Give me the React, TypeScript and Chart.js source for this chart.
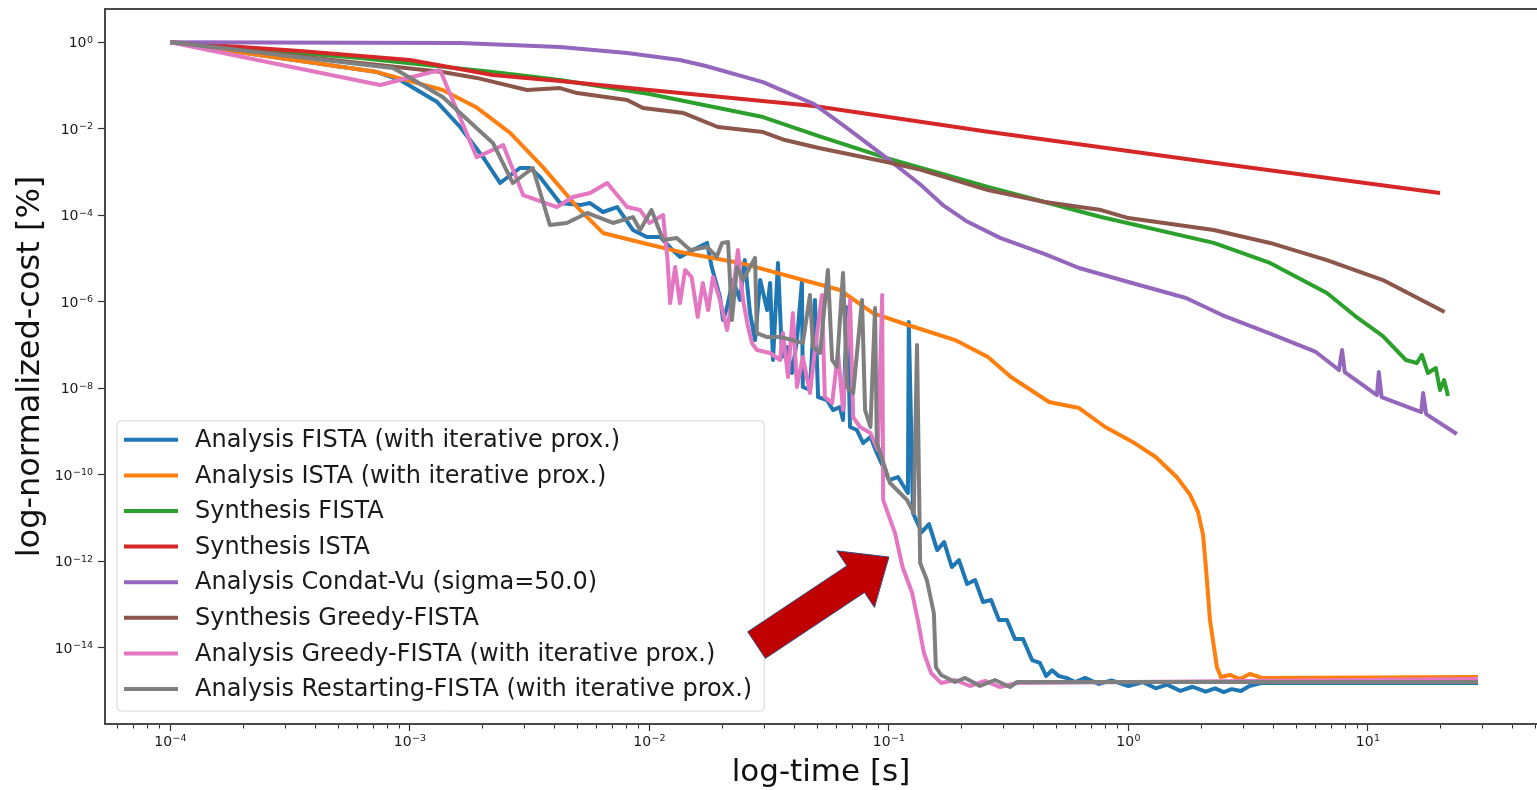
import React, { useEffect, useRef } from "react";
import { Chart, registerables } from "chart.js";

Chart.register(...registerables);

const FONT = "'DejaVu Sans', 'Liberation Sans', sans-serif";
const W = 1537;
const H = 790;

// ---------------- data: [time in s, normalized cost] ----------------
const seriesLabels = [
  "Analysis FISTA (with iterative prox.)",
  "Analysis ISTA (with iterative prox.)",
  "Synthesis FISTA",
  "Synthesis ISTA",
  "Analysis Condat-Vu (sigma=50.0)",
  "Synthesis Greedy-FISTA",
  "Analysis Greedy-FISTA (with iterative prox.)",
  "Analysis Restarting-FISTA (with iterative prox.)",
];
const seriesColors = ["#1f77b4", "#ff7f0e", "#2ca02c", "#d62728", "#9467bd", "#8c564b", "#e377c2", "#7f7f7f"];

const analysisFista = [
  [1e-4, 1], [7.3e-4, 0.205], [9.1e-4, 0.134], [1.3e-3, 0.0415], [1.62e-3, 0.011], [2.02e-3, 0.0022],
  [2.38e-3, 5.57e-4], [2.88e-3, 1.24e-3], [3.17e-3, 1.24e-3], [3.49e-3, 7.66e-4], [4.23e-3, 1.92e-4],
  [5.13e-3, 1.72e-4], [5.65e-3, 1.92e-4], [6.4e-3, 1.19e-4], [7.33e-3, 1.55e-4], [8.53e-3, 4.57e-5],
  [9.76e-3, 3.14e-5], [1.11e-2, 3.14e-5], [1.25e-2, 1.57e-5], [1.34e-2, 1.09e-5], [1.52e-2, 1.57e-5],
  [1.74e-2, 2.29e-5], [1.82e-2, 6.36e-6], [1.97e-2, 1.29e-6], [2.03e-2, 3.77e-7], [2.11e-2, 7.5e-7],
  [2.23e-2, 3.18e-6], [2.39e-2, 1.1e-6], [2.5e-2, 9.2e-6], [2.63e-2, 5.48e-7], [2.76e-2, 1.3e-7],
  [2.9e-2, 3.18e-6], [3.1e-2, 6.43e-7], [3.19e-2, 2.71e-6], [3.28e-2, 4.5e-8], [3.44e-2, 7.87e-6],
  [3.58e-2, 5.28e-8], [3.75e-2, 9e-8], [3.94e-2, 2.25e-8], [4.13e-2, 1.3e-7], [4.33e-2, 2.86e-6],
  [4.37e-2, 1.07e-8], [4.68e-2, 9.1e-9], [4.91e-2, 1.1e-6], [5.06e-2, 6.25e-9], [5.51e-2, 5.33e-9],
  [5.84e-2, 3.13e-9], [6.24e-2, 3.67e-9], [6.43e-2, 1.84e-9], [6.69e-2, 7.5e-7], [6.88e-2, 1.27e-9],
  [7.35e-2, 1.08e-9], [7.8e-2, 5.42e-10], [8.37e-2, 7.46e-10], [8.9e-2, 3.18e-10], [0.1, 7.54e-11],
  [0.109, 8.85e-11], [0.12, 3.77e-11], [0.121, 3.39e-7], [0.126, 1.3e-11], [0.137, 4.72e-12],
  [0.147, 7.23e-12], [0.159, 1.81e-12], [0.17, 2.77e-12], [0.183, 7.35e-13], [0.196, 1.06e-12],
  [0.212, 2.97e-13], [0.229, 3.67e-13], [0.247, 1.14e-13], [0.267, 1.27e-13], [0.288, 4.36e-14],
  [0.311, 4.36e-14], [0.336, 1.58e-14], [0.363, 1.58e-14], [0.396, 5.19e-15], [0.427, 4.43e-15],
  [0.453, 2.22e-15], [0.48, 3.0e-15], [0.512, 2.2e-15], [0.55, 2.0e-15], [0.6, 1.6e-15], [0.66, 2.0e-15],
  [0.75, 1.45e-15], [0.85, 1.75e-15], [1.0, 1.3e-15], [1.15, 1.6e-15], [1.3, 1.15e-15], [1.45, 1.4e-15],
  [1.65, 1.0e-15], [1.85, 1.25e-15], [2.1, 9.6e-16], [2.3, 1.15e-15], [2.5, 9.4e-16], [2.7, 1.1e-15],
  [2.95, 1.0e-15], [3.2, 1.3e-15], [3.58, 1.53e-15], [28.8, 1.53e-15],
];

const analysisIsta = [
  [1e-4, 1], [7.3e-4, 0.205], [1.37e-3, 0.0787], [1.9e-3, 0.031], [2.62e-3, 8.06e-3], [3.59e-3, 1.3e-3],
  [4.99e-3, 1.55e-4], [6.4e-3, 3.9e-5], [9.4e-3, 2.29e-5], [1.34e-2, 1.42e-5], [2.39e-2, 7.9e-6],
  [6.24e-2, 1.87e-6], [8.58e-2, 5.48e-7], [0.12, 2.9e-7], [0.189, 1.3e-7], [0.259, 5.28e-8],
  [0.323, 1.82e-8], [0.466, 4.8e-9], [0.622, 3.48e-9], [0.8, 1.27e-9], [1.06, 5.4e-10], [1.3, 2.57e-10],
  [1.59, 8.85e-11], [1.8, 3.6e-11], [1.95, 1.4e-11], [2.05, 4.0e-12], [2.11, 6.25e-13], [2.19, 4.36e-14],
  [2.34, 3.58e-15], [2.43, 2.1e-15], [2.65, 2.34e-15], [2.92, 1.89e-15], [3.21, 2.47e-15], [3.61, 2.0e-15],
  [28.8, 2.1e-15],
];

const synthesisFista = [
  [1e-4, 1], [6.19e-4, 0.433], [2.22e-3, 0.205], [4.23e-3, 0.134], [1e-2, 0.0636], [2.98e-2, 0.0187],
  [5.1e-2, 6.8e-3], [9.8e-2, 2.1e-3], [0.259, 4.5e-4], [0.769, 9.1e-5], [2.27, 2.3e-5], [3.9, 7.9e-6],
  [6.74, 1.59e-6], [8.85, 4.67e-7], [11.55, 1.6e-7], [14.4, 4.5e-8], [16.0, 3.83e-8], [16.8, 5.9e-8],
  [17.8, 2.25e-8], [19.2, 2.94e-8], [20.0, 9.1e-9], [20.8, 1.55e-8], [21.6, 6.6e-9],
];

const synthesisIsta = [
  [1e-4, 1], [3.47e-4, 0.63], [1e-3, 0.39], [2.22e-3, 0.175], [4.23e-3, 0.127], [1e-2, 0.079],
  [4.87e-2, 0.0336], [0.259, 8.5e-3], [2.27, 1.63e-3], [20, 3.27e-4],
];

const condatVu = [
  [1e-4, 1], [1.62e-3, 0.963], [4.23e-3, 0.78], [8.07e-3, 0.566], [1.34e-2, 0.39], [1.72e-2, 0.283],
  [2.98e-2, 0.12], [4.87e-2, 0.0373], [6.69e-2, 0.0104], [9.8e-2, 2.1e-3], [0.136, 5.0e-4],
  [0.168, 1.72e-4], [0.21, 7.4e-5], [0.291, 3.0e-5], [0.448, 1.27e-5], [0.622, 6.03e-6], [1.0, 2.86e-6],
  [1.74, 1.22e-6], [2.46, 4.93e-7], [3.86, 1.89e-7], [6.06, 6.9e-8], [7.57, 2.64e-8], [7.8, 7.66e-8],
  [8.0, 2.37e-8], [10.9, 6.96e-9], [11.1, 2.37e-8], [11.4, 6.25e-9], [16.7, 2.8e-9], [17.0, 7.74e-9],
  [17.5, 2.53e-9], [23.5, 8.75e-10],
];

const synthesisGreedy = [
  [1e-4, 1], [6.19e-4, 0.332], [1.37e-3, 0.205], [1.9e-3, 0.15], [3.08e-3, 0.0787], [4.23e-3, 0.0875],
  [4.99e-3, 0.067], [8.07e-3, 0.0462], [9.4e-3, 0.0302], [1.39e-2, 0.0231], [1.93e-2, 0.011],
  [2.98e-2, 8.4e-3], [3.68e-2, 5.5e-3], [5.1e-2, 3.6e-3], [9.8e-2, 1.7e-3], [0.136, 1.12e-3],
  [0.259, 3.83e-4], [0.448, 2.02e-4], [0.769, 1.32e-4], [1.0, 8.6e-5], [2.27, 4.57e-5], [3.9, 2.29e-5],
  [6.74, 9.2e-6], [11.55, 3.18e-6], [20.9, 5.78e-7],
];

const analysisGreedy = [
  [1e-4, 1], [7.5e-4, 0.103], [1.335e-3, 0.229], [1.9e-3, 2.2e-3], [2.45e-3, 4.2e-3], [2.97e-3, 2.94e-4],
  [4.11e-3, 1.55e-4], [4.79e-3, 2.64e-4], [5.65e-3, 3.27e-4], [6.66e-3, 5.57e-4], [8.07e-3, 1.55e-4],
  [9.14e-3, 1.32e-4], [1.0e-2, 6.64e-5], [1.14e-2, 1.01e-4], [1.19e-2, 9.2e-6], [1.22e-2, 9.3e-7],
  [1.28e-2, 6.36e-6], [1.34e-2, 9.3e-7], [1.41e-2, 5.42e-6], [1.5e-2, 3.73e-6], [1.59e-2, 4.43e-7],
  [1.67e-2, 2.71e-6], [1.76e-2, 6.43e-7], [1.84e-2, 3.73e-6], [1.97e-2, 1.1e-6], [2.11e-2, 2.22e-7],
  [2.23e-2, 1.59e-6], [2.34e-2, 1.57e-5], [2.46e-2, 1.1e-6], [2.58e-2, 2.6e-7], [2.68e-2, 1.11e-7],
  [2.81e-2, 7.66e-8], [3.19e-2, 6.53e-8], [3.51e-2, 4.5e-8], [3.61e-2, 1.89e-7], [3.79e-2, 1.82e-8],
  [3.97e-2, 5.48e-7], [4.13e-2, 1.07e-8], [4.37e-2, 5.28e-8], [4.68e-2, 7.74e-9], [4.91e-2, 7.66e-8],
  [5.25e-2, 1.43e-6], [5.4e-2, 6.25e-9], [5.79e-2, 4.55e-9], [6.13e-2, 6.53e-8], [6.43e-2, 3.13e-9],
  [6.88e-2, 1.1e-6], [7.09e-2, 2.16e-9], [7.57e-2, 1.27e-9], [8.37e-2, 9.2e-10], [8.99e-2, 3.73e-10],
  [9.37e-2, 1.43e-6], [9.46e-2, 2.6e-11], [0.106, 4.48e-12], [0.114, 7.35e-13], [0.125, 1.84e-13],
  [0.132, 4.36e-14], [0.14, 7.54e-15], [0.15, 2.6e-15], [0.165, 1.53e-15], [0.189, 1.79e-15],
  [0.218, 1.3e-15], [0.252, 1.7e-15], [0.291, 1.23e-15], [0.343, 1.53e-15], [28.8, 1.89e-15],
];

const analysisRestart = [
  [1e-4, 1], [8.5e-4, 0.254], [9.1e-4, 0.205], [1.37e-3, 0.0542], [2.22e-3, 0.0047], [2.69e-3, 5.57e-4],
  [3.26e-3, 1.24e-3], [3.84e-3, 5.97e-5], [4.52e-3, 6.64e-5], [5.49e-3, 1.13e-4], [7.04e-3, 6.64e-5],
  [8.53e-3, 9.1e-5], [9.14e-3, 4.57e-5], [1.02e-2, 1.32e-4], [1.14e-2, 2.68e-5], [1.3e-2, 2.99e-5],
  [1.48e-2, 1.57e-5], [1.74e-2, 1.85e-5], [1.91e-2, 1.09e-5], [2.01e-2, 2.29e-5], [2.13e-2, 2.41e-5],
  [2.21e-2, 3.77e-7], [2.32e-2, 6.36e-6], [2.46e-2, 3.18e-6], [2.63e-2, 6.36e-6], [2.76e-2, 1.03e-5],
  [2.81e-2, 1.89e-7], [3.1e-2, 1.53e-7], [3.51e-2, 1.53e-7], [3.97e-2, 1.3e-7], [4.37e-2, 1.11e-7],
  [4.68e-2, 1.43e-6], [4.82e-2, 9e-8], [5.16e-2, 6.53e-8], [5.56e-2, 5.42e-6], [5.79e-2, 4.5e-8],
  [6.06e-2, 3.1e-8], [6.43e-2, 4.62e-6], [6.69e-2, 1.07e-8], [7.09e-2, 7.74e-9], [7.72e-2, 1.1e-6],
  [7.95e-2, 3.13e-9], [8.37e-2, 1.27e-9], [8.75e-2, 7.15e-7], [8.9e-2, 5.42e-10], [9.19e-2, 3.18e-10],
  [0.101, 6.43e-11], [0.119, 2.6e-11], [0.127, 1.3e-11], [0.131, 1.0e-7], [0.135, 9.1e-13],
  [0.144, 3.67e-13], [0.154, 6.33e-14], [0.157, 3.58e-15], [0.165, 2.34e-15], [0.189, 1.61e-15],
  [0.208, 2.0e-15], [0.24, 1.3e-15], [0.277, 1.79e-15], [0.32, 1.23e-15], [0.343, 1.61e-15],
  [28.8, 1.61e-15],
];

const seriesData = [
  analysisFista, analysisIsta, synthesisFista, synthesisIsta,
  condatVu, synthesisGreedy, analysisGreedy, analysisRestart,
];

// ---------------- axes ----------------
const xTickValues = [1e-4, 1e-3, 1e-2, 1e-1, 1, 10];
const xTickExponents = ["−4", "−3", "−2", "−1", "0", "1"];
const yTickValues = [1, 1e-2, 1e-4, 1e-6, 1e-8, 1e-10, 1e-12, 1e-14];
const yTickExponents = ["0", "−2", "−4", "−6", "−8", "−10", "−12", "−14"];
const tickBase = "10";
const xMinorSubs = [2, 3, 4, 5, 6, 7, 8, 9];
const xMinorDecades = [1e-5, 1e-4, 1e-3, 1e-2, 1e-1, 1, 10];
const X_MIN = 5.33e-5;
const X_MAX = 50.8;
const Y_MIN = 1.72e-16;
const Y_MAX = 5.89;

// annotation arrow (data coords)
const arrowTail = [0.028, 1.15e-14];
const arrowTip = [0.1, 1.25e-12];

const SPINE = "#4a4a4a";
const TICK = "#333333";
const BASE_FONT = 14;
const EXP_FONT = 9.5;

const framePlugin = {
  id: "frameExtras",
  afterDraw(chart: any) {
    const { ctx, chartArea: a, scales } = chart;
    const xs = scales.x;
    ctx.save();
    ctx.strokeStyle = SPINE;
    ctx.lineWidth = 2;
    ctx.beginPath();
    ctx.moveTo(a.left - 1, a.top);
    ctx.lineTo(a.right, a.top);
    ctx.stroke();
    ctx.strokeStyle = TICK;
    ctx.lineWidth = 1;
    for (const d of xMinorDecades) {
      for (const m of xMinorSubs) {
        const v = m * d;
        if (v < xs.min || v > xs.max) continue;
        const px = Math.round(xs.getPixelForValue(v)) + 0.5;
        ctx.beginPath();
        ctx.moveTo(px, a.bottom + 1);
        ctx.lineTo(px, a.bottom + 4.5);
        ctx.stroke();
      }
    }
    ctx.restore();
  },
};

// power-of-ten tick labels with a raised exponent
const sciTickPlugin = {
  id: "sciTicks",
  afterDraw(chart: any) {
    const { ctx, chartArea: a, scales } = chart;
    ctx.save();
    ctx.fillStyle = "#1a1a1a";
    ctx.textBaseline = "alphabetic";
    ctx.textAlign = "left";
    const measure = (exp: string) => {
      ctx.font = `${BASE_FONT}px ${FONT}`;
      const bw = ctx.measureText(tickBase).width;
      ctx.font = `${EXP_FONT}px ${FONT}`;
      const ew = ctx.measureText(exp).width;
      return { bw, ew };
    };
    const draw = (x0: number, baseY: number, exp: string, bw: number) => {
      ctx.font = `${BASE_FONT}px ${FONT}`;
      ctx.fillText(tickBase, x0, baseY);
      ctx.font = `${EXP_FONT}px ${FONT}`;
      ctx.fillText(exp, x0 + bw + 0.5, baseY - 4.8);
    };
    xTickValues.forEach((v, i) => {
      const px = scales.x.getPixelForValue(v);
      const { bw, ew } = measure(xTickExponents[i]);
      draw(px - (bw + ew + 0.5) / 2, a.bottom + 22, xTickExponents[i], bw);
    });
    yTickValues.forEach((v, i) => {
      const py = scales.y.getPixelForValue(v);
      const { bw, ew } = measure(yTickExponents[i]);
      draw(a.left - 12 - (bw + ew + 0.5), py + 5.1, yTickExponents[i], bw);
    });
    ctx.restore();
  },
};

const legendPlugin = {
  id: "boxLegend",
  afterDraw(chart: any) {
    const { ctx, chartArea: a } = chart;
    ctx.save();
    ctx.font = `24px ${FONT}`;
    const textW = Math.max(...seriesLabels.map((s) => ctx.measureText(s).width));
    const rowH = 35.6;
    const padTop = 19;
    const boxW = 78 + textW + 12;
    const boxH = padTop + rowH * (seriesLabels.length - 1) + 22;
    const left = a.left + 12;
    const top = a.bottom - 13 - boxH;
    const r = 4;
    ctx.beginPath();
    ctx.moveTo(left + r, top);
    ctx.lineTo(left + boxW - r, top);
    ctx.quadraticCurveTo(left + boxW, top, left + boxW, top + r);
    ctx.lineTo(left + boxW, top + boxH - r);
    ctx.quadraticCurveTo(left + boxW, top + boxH, left + boxW - r, top + boxH);
    ctx.lineTo(left + r, top + boxH);
    ctx.quadraticCurveTo(left, top + boxH, left, top + boxH - r);
    ctx.lineTo(left, top + r);
    ctx.quadraticCurveTo(left, top, left + r, top);
    ctx.closePath();
    ctx.fillStyle = "rgba(255,255,255,0.85)";
    ctx.fill();
    ctx.strokeStyle = "#d6d6d6";
    ctx.lineWidth = 1;
    ctx.stroke();
    ctx.textBaseline = "middle";
    ctx.textAlign = "left";
    seriesLabels.forEach((lab, i) => {
      const y = top + padTop + i * rowH;
      ctx.strokeStyle = seriesColors[i];
      ctx.lineWidth = 4;
      ctx.beginPath();
      ctx.moveTo(left + 7, y);
      ctx.lineTo(left + 61, y);
      ctx.stroke();
      ctx.fillStyle = "#1a1a1a";
      ctx.fillText(lab, left + 78, y + 1);
    });
    ctx.restore();
  },
};

const arrowPlugin = {
  id: "arrowNote",
  afterDraw(chart: any) {
    const { ctx, scales } = chart;
    const xs = scales.x;
    const ys = scales.y;
    const p1 = { x: xs.getPixelForValue(arrowTail[0]), y: ys.getPixelForValue(arrowTail[1]) };
    const p2 = { x: xs.getPixelForValue(arrowTip[0]), y: ys.getPixelForValue(arrowTip[1]) };
    const dx = p2.x - p1.x;
    const dy = p2.y - p1.y;
    const L = Math.hypot(dx, dy);
    const ux = dx / L;
    const uy = dy / L;
    const nx = -uy;
    const ny = ux;
    const shaft = 32;
    const headW = 68;
    const headL = 40;
    const hb = { x: p2.x - ux * headL, y: p2.y - uy * headL };
    ctx.save();
    ctx.beginPath();
    ctx.moveTo(p1.x + (nx * shaft) / 2, p1.y + (ny * shaft) / 2);
    ctx.lineTo(hb.x + (nx * shaft) / 2, hb.y + (ny * shaft) / 2);
    ctx.lineTo(hb.x + (nx * headW) / 2, hb.y + (ny * headW) / 2);
    ctx.lineTo(p2.x, p2.y);
    ctx.lineTo(hb.x - (nx * headW) / 2, hb.y - (ny * headW) / 2);
    ctx.lineTo(hb.x - (nx * shaft) / 2, hb.y - (ny * shaft) / 2);
    ctx.lineTo(p1.x - (nx * shaft) / 2, p1.y - (ny * shaft) / 2);
    ctx.closePath();
    ctx.fillStyle = "#c00000";
    ctx.fill();
    ctx.strokeStyle = "#2f528f";
    ctx.lineWidth = 1;
    ctx.stroke();
    ctx.restore();
  },
};

function zeroPad(s: any) {
  s.paddingTop = 0;
  s.paddingBottom = 0;
  s.paddingLeft = 0;
  s.paddingRight = 0;
}

export default function App() {
  const ref = useRef<HTMLCanvasElement | null>(null);

  useEffect(() => {
    if (!ref.current) return;
    const n = seriesData.length;
    const datasets = seriesData.map((pts, i) => ({
      label: seriesLabels[i],
      data: pts.map((p) => ({ x: p[0], y: p[1] })),
      borderColor: seriesColors[i],
      backgroundColor: seriesColors[i],
      borderWidth: 4,
      pointRadius: 0,
      tension: 0,
      fill: false,
      order: n - i,
      borderJoinStyle: "round" as const,
    }));

    const chart = new Chart(ref.current, {
      type: "line",
      data: { datasets },
      options: {
        animation: false,
        responsive: false,
        devicePixelRatio: 1,
        layout: { padding: { top: 9, right: 0, bottom: 0, left: 0 } },
        plugins: { legend: { display: false }, tooltip: { enabled: false } },
        scales: {
          x: {
            type: "logarithmic",
            bounds: "data",
            min: X_MIN,
            max: X_MAX,
            afterBuildTicks: (s: any) => {
              s.ticks = xTickValues.map((v) => ({ value: v }));
            },
            afterFit: (s: any) => {
              s.height = 66;
              zeroPad(s);
            },
            grid: { drawOnChartArea: false, drawTicks: true, tickLength: 7, tickColor: TICK, tickWidth: 1.2 },
            border: { display: true, color: SPINE, width: 2 },
            ticks: { autoSkip: false, maxRotation: 0, callback: () => "" },
            title: {
              display: true,
              text: "log-time [s]",
              color: "#111",
              font: { family: FONT, size: 31, lineHeight: 1 },
              padding: { top: 0, bottom: 1.5 },
            },
          },
          y: {
            type: "logarithmic",
            bounds: "data",
            min: Y_MIN,
            max: Y_MAX,
            afterBuildTicks: (s: any) => {
              s.ticks = yTickValues.map((v) => ({ value: v }));
            },
            afterFit: (s: any) => {
              s.width = 105;
              zeroPad(s);
            },
            grid: { drawOnChartArea: false, drawTicks: true, tickLength: 7, tickColor: TICK, tickWidth: 1.2 },
            border: { display: true, color: SPINE, width: 2 },
            ticks: { autoSkip: false, callback: () => "" },
            title: {
              display: true,
              text: "log-normalized-cost [%]",
              color: "#111",
              font: { family: FONT, size: 32, lineHeight: 1 },
              padding: { top: 15, bottom: 0 },
            },
          },
        },
      },
      plugins: [framePlugin, sciTickPlugin, legendPlugin, arrowPlugin],
    } as any);

    return () => chart.destroy();
  }, []);

  return (
    <div style={{ position: "absolute", left: 0, top: 0, width: W, height: H, background: "#fff" }}>
      <canvas ref={ref} width={W} height={H} style={{ display: "block", width: W, height: H }} />
    </div>
  );
}
